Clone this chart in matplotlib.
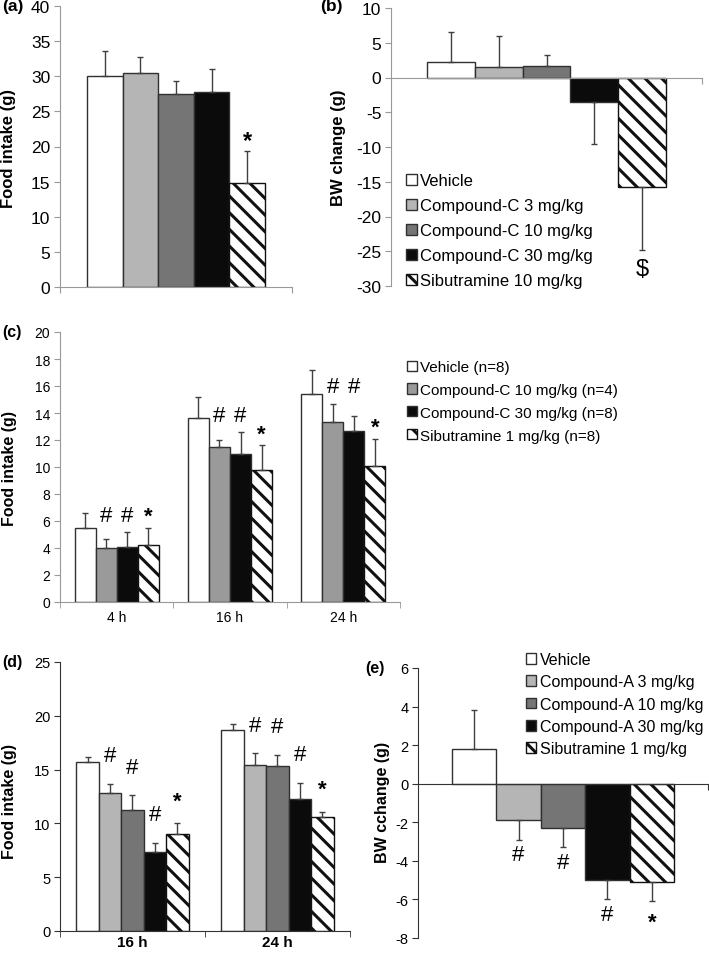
import numpy as np
import matplotlib.pyplot as plt

plt.rcParams['font.family'] = ['Liberation Sans', 'DejaVu Sans']
plt.rcParams['hatch.linewidth'] = 2.2
plt.rcParams['axes.unicode_minus'] = False

# ---- data ----
# (a) food intake, compound-C
a_labels = ['Vehicle', 'Compound-C 3 mg/kg', 'Compound-C 10 mg/kg',
            'Compound-C 30 mg/kg', 'Sibutramine 10 mg/kg']
a_mean = [30.0, 30.5, 27.5, 27.8, 14.8]
a_err = [3.6, 2.3, 1.8, 3.3, 4.6]
a_marks = ['', '', '', '', '*']

# (b) BW change, compound-C
b_mean = [2.2, 1.5, 1.6, -3.5, -15.7]
b_err = [4.4, 4.5, 1.6, 6.1, 9.1]
b_marks = ['', '', '', '', '$']

# (c) food intake over time
c_times = ['4 h', '16 h', '24 h']
c_labels = ['Vehicle (n=8)', 'Compound-C 10 mg/kg (n=4)',
            'Compound-C 30 mg/kg (n=8)', 'Sibutramine 1 mg/kg (n=8)']
c_mean = [[5.5, 13.6, 15.4], [4.0, 11.45, 13.3], [4.1, 11.0, 12.7], [4.2, 9.8, 10.1]]
c_err = [[1.1, 1.6, 1.8], [0.7, 0.55, 1.4], [1.1, 1.6, 1.1], [1.3, 1.8, 2.0]]
c_marks = [['', '', ''], ['#', '#', '#'], ['#', '#', '#'], ['*', '*', '*']]

# (d) food intake, compound-A
d_times = ['16 h', '24 h']
d_mean = [[15.7, 18.7], [12.8, 15.4], [11.2, 15.3], [7.3, 12.3], [9.0, 10.6]]
d_err = [[0.5, 0.5], [0.9, 1.1], [1.4, 1.1], [0.9, 1.5], [1.0, 0.5]]
d_marks = [['', ''], ['#', '#'], ['#', '#'], ['#', '#'], ['*', '*']]

# (e) BW change, compound-A
e_labels = ['Vehicle', 'Compound-A 3 mg/kg', 'Compound-A 10 mg/kg',
            'Compound-A 30 mg/kg', 'Sibutramine 1 mg/kg']
e_mean = [1.8, -1.9, -2.3, -5.0, -5.1]
e_err = [2.0, 1.0, 1.0, 1.0, 1.0]
e_marks = ['', '#', '#', '#', '*']

# ---- styles ----
col5 = ['white', '#b5b5b5', '#757575', '#0b0b0b', 'white']
col4 = ['white', '#9a9a9a', '#0b0b0b', 'white']
EDGE = '#303030'

W, H = 709, 954
fig = plt.figure(figsize=(W / 100, H / 100), dpi=100)


def px_axes(l, t, r, b):
    return fig.add_axes([l / W, 1 - b / H, (r - l) / W, (b - t) / H])


def style(ax, spine_col, fs):
    for s in ['top', 'right']:
        ax.spines[s].set_visible(False)
    for s in ['left', 'bottom']:
        ax.spines[s].set_color(spine_col)
    ax.tick_params(axis='y', direction='out', length=4, color=spine_col,
                   labelsize=fs, pad=3)
    ax.tick_params(axis='x', which='both', direction='out', length=4,
                   color=spine_col, labelsize=fs)


def draw_bar(ax, x, h, w, color, hatched):
    if hatched:
        return ax.bar(x, h, w, color='white', edgecolor='#111111',
                      hatch='\\\\', linewidth=1.0)
    return ax.bar(x, h, w, color=color, edgecolor=EDGE, linewidth=1.0)


def err(ax, x, m, e):
    lo = np.where(np.array(m) < 0, e, 0)
    hi = np.where(np.array(m) >= 0, e, 0)
    ax.errorbar(x, m, yerr=[lo, hi], fmt='none', ecolor='#404040',
                elinewidth=1.0, capsize=2.5, capthick=1.0)


def mark(ax, x, y, s, off, fs):
    if not s:
        return
    dy = off if y >= 0 else -off
    if s == '*':
        dy -= 4
    ax.annotate(s, (x, y), xytext=(0, dy), textcoords='offset points',
                ha='center', va='center', fontsize=fs,
                fontweight='bold' if s == '*' else 'normal')


def single_panel(ax, mean, errs, marks, colors, off, mfs):
    x = np.arange(len(mean))
    handles = []
    for i in range(len(mean)):
        handles.append(draw_bar(ax, x[i], mean[i], 1.0, colors[i], i == len(mean) - 1))
    err(ax, x, mean, errs)
    for i in range(len(mean)):
        tip = mean[i] + (errs[i] if mean[i] >= 0 else -errs[i])
        mark(ax, x[i], tip, marks[i], off, mfs)
    return handles


def group_panel(ax, means, errs, marks, colors, bw, off, mfs, align=False):
    n = len(means)
    g = np.arange(len(means[0]))
    handles = []
    for i in range(n):
        xs = g + (i - (n - 1) / 2) * bw
        handles.append(draw_bar(ax, xs, means[i], bw, colors[i], i == n - 1))
        err(ax, xs, means[i], errs[i])
    for j in range(len(g)):
        tips = [means[i][j] + errs[i][j] for i in range(n)]
        hash_top = max(tips[i] for i in range(n) if marks[i][j] == '#')
        for i in range(n):
            xs = g[j] + (i - (n - 1) / 2) * bw
            y = hash_top if (align and marks[i][j] == '#') else tips[i]
            mark(ax, xs, y, marks[i][j], off, mfs)
    return handles


# ---- (a) ----
ax = px_axes(60, 7, 292, 288)
single_panel(ax, a_mean, a_err, a_marks, col5, 11, 17)
ax.set_xlim(-1.26, 5.26)
ax.set_ylim(0, 40)
ax.set_yticks(range(0, 41, 5))
ax.set_xticks([-1.26, 5.26])
ax.set_xticklabels([])
style(ax, '#999999', 12.5)
fig.text(9 / W, 1 - 148 / H, 'Food intake (g)', rotation=90, ha='center',
         va='center', fontsize=12, fontweight='bold')
fig.text(2 / W, 1 - 7 / H, '(a)', ha='left', va='center', fontsize=12.5,
         fontweight='bold')

# ---- (b) ----
ax = px_axes(391, 9, 702, 287)
hb = single_panel(ax, b_mean, b_err, b_marks, col5, 14, 17)
ax.set_xlim(-1.25, 5.25)
ax.set_ylim(-30, 10)
ax.set_yticks(range(-30, 11, 5))
ax.spines['bottom'].set_position(('data', 0))
ax.set_xticks([5.25])
ax.set_xticklabels([])
style(ax, '#999999', 12.5)
ax.legend(hb, a_labels, loc='upper left', bbox_to_anchor=(406 / W, 1 - 174 / H),
          bbox_transform=fig.transFigure, frameon=False, borderpad=0,
          borderaxespad=0, handlelength=0.65, handleheight=0.65,
          handletextpad=0.2, labelspacing=0.6, fontsize=12)
fig.text(338 / W, 1 - 148 / H, 'BW change (g)', rotation=90, ha='center',
         va='center', fontsize=12, fontweight='bold')
fig.text(320 / W, 1 - 7 / H, '(b)', ha='left', va='center', fontsize=12.5,
         fontweight='bold')

# ---- (c) ----
ax = px_axes(60, 333, 400, 603)
hc = group_panel(ax, c_mean, c_err, c_marks, col4, 0.186, 12, 16, align=True)
ax.set_xlim(-0.5, 2.5)
ax.set_ylim(0, 20)
ax.set_yticks(range(0, 21, 2))
ax.set_xticks(range(3))
ax.set_xticklabels(c_times)
ax.set_xticks([-0.5, 0.5, 1.5, 2.5], minor=True)
style(ax, '#999999', 10)
ax.tick_params(axis='x', which='major', length=0, pad=6)
ax.legend(hc, c_labels, loc='upper left', bbox_to_anchor=(407 / W, 1 - 361 / H),
          bbox_transform=fig.transFigure, frameon=False, borderpad=0,
          borderaxespad=0, handlelength=0.65, handleheight=0.65,
          handletextpad=0.2, labelspacing=0.58, fontsize=11)
fig.text(10 / W, 1 - 468 / H, 'Food intake (g)', rotation=90, ha='center',
         va='center', fontsize=11.5, fontweight='bold')
fig.text(2 / W, 1 - 333 / H, '(c)', ha='left', va='center', fontsize=11.5,
         fontweight='bold')

# ---- (d) ----
ax = px_axes(60, 663, 350, 932)
group_panel(ax, d_mean, d_err, d_marks, col5, 0.155, 20, 16)
ax.set_xlim(-0.5, 1.5)
ax.set_ylim(0, 25)
ax.set_yticks(range(0, 26, 5))
ax.set_xticks(range(2))
ax.set_xticklabels(d_times, fontweight='bold')
ax.set_xticks([-0.5, 0.5, 1.5], minor=True)
style(ax, '#333333', 10.5)
ax.tick_params(axis='x', which='major', length=0, pad=3, labelsize=11)
fig.text(10 / W, 1 - 802 / H, 'Food intake (g)', rotation=90, ha='center',
         va='center', fontsize=11.5, fontweight='bold')
fig.text(2 / W, 1 - 663 / H, '(d)', ha='left', va='center', fontsize=11.5,
         fontweight='bold')

# ---- (e) ----
ax = px_axes(418, 669, 708, 939)
he = single_panel(ax, e_mean, e_err, e_marks, col5, 11, 16)
ax.set_xlim(-1.26, 5.26)
ax.set_ylim(-8, 6)
ax.set_yticks(range(-8, 7, 2))
ax.spines['bottom'].set_position(('data', 0))
ax.set_xticks([5.26])
ax.set_xticklabels([])
style(ax, '#333333', 10.5)
ax.legend(he, e_labels, loc='upper left', bbox_to_anchor=(526 / W, 1 - 653 / H),
          bbox_transform=fig.transFigure, frameon=False, borderpad=0,
          borderaxespad=0, handlelength=0.65, handleheight=0.65,
          handletextpad=0.2, labelspacing=0.46, fontsize=11.5)
fig.text(382 / W, 1 - 802 / H, 'BW cchange (g)', rotation=90, ha='center',
         va='center', fontsize=11.5, fontweight='bold')
fig.text(365 / W, 1 - 669 / H, '(e)', ha='left', va='center', fontsize=11.5,
         fontweight='bold')

fig.savefig('out.png', dpi=100)
